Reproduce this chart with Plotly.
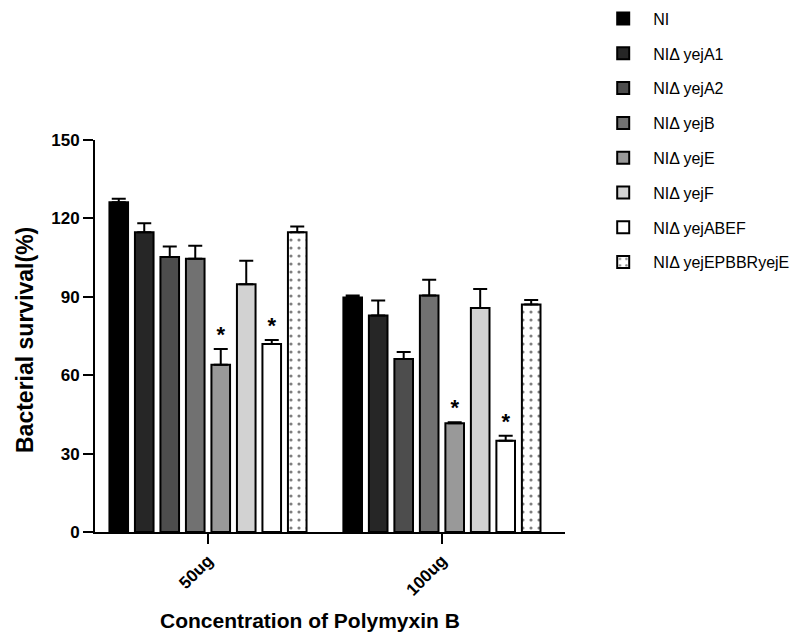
import plotly.graph_objects as go

categories = ["50ug", "100ug"]
strains = ["NI", "NIΔ yejA1", "NIΔ yejA2", "NIΔ yejB", "NIΔ yejE", "NIΔ yejF",
           "NIΔ yejABEF", "NIΔ yejEPBBRyejE"]
survival_50 = [126.2, 114.7, 105.2, 104.6, 64.0, 94.8, 71.9, 114.7]
survival_100 = [89.7, 82.8, 66.2, 90.5, 41.6, 85.7, 34.9, 87.1]
err_50 = [1.3, 3.4, 4.0, 4.9, 6.0, 9.0, 1.6, 2.2]
err_100 = [0.8, 5.8, 2.7, 6.0, 0.4, 7.3, 1.9, 1.7]
signif_50 = [False, False, False, False, True, False, True, False]
signif_100 = [False, False, False, False, True, False, True, False]

colors = ["#000000", "#262626", "#4d4d4d", "#717171", "#999999", "#d2d2d2", "#ffffff", "#ffffff"]

FONT = "Liberation Sans, Arial, sans-serif"
BARGAP = 0.128
BARGROUPGAP = 0.27
n = len(strains)
xpos = list(range(len(categories)))

fig = go.Figure()
for i, s in enumerate(strains):
    pattern = dict(shape=".", fgcolor="black", bgcolor="white", size=8, solidity=0.12) if i == n - 1 else dict(shape="")
    fig.add_trace(go.Bar(
        x=xpos, y=[survival_50[i], survival_100[i]], name=s,
        legendgroup=s,
        marker=dict(color=colors[i], line=dict(color="black", width=2), pattern=pattern),
        error_y=dict(type="data", array=[err_50[i], err_100[i]], arrayminus=[0, 0],
                     symmetric=False, color="black", thickness=2, width=7),
    ))

# significance stars placed above error bars, using the group offset computed from bar gaps
slot = (1 - BARGAP) / n
sx, sy = [], []
for i in range(n):
    off = -(1 - BARGAP) / 2 + slot * (i + 0.5)
    for c, (vals, errs, sig) in enumerate([(survival_50, err_50, signif_50), (survival_100, err_100, signif_100)]):
        if sig[i]:
            sx.append(xpos[c] + off)
            sy.append(vals[i] + errs[i] + 0.5)
fig.add_trace(go.Scatter(x=sx, y=sy, mode="text", text=["*"] * len(sx), textposition="top center",
                         textfont=dict(family=FONT, size=22, color="black", weight="bold"), showlegend=False,
                         hoverinfo="skip"))

fig.update_layout(
    width=798, height=628,
    margin=dict(l=87, r=241, t=132, b=104, autoexpand=False),
    paper_bgcolor="white", plot_bgcolor="white",
    barmode="group", bargap=BARGAP, bargroupgap=BARGROUPGAP,
    font=dict(family=FONT, color="black"),
    showlegend=True,
    legend=dict(x=1.06, y=1.353, xanchor="left", yanchor="top", font=dict(size=16, family=FONT),
                tracegroupgap=11, itemwidth=50, bgcolor="rgba(0,0,0,0)"),
    xaxis=dict(range=[-0.483, 1.526], tickvals=xpos, ticktext=categories, tickangle=-45,
               showline=True, linecolor="black", linewidth=2, ticks="outside", ticklen=10,
               tickwidth=2, tickcolor="black", showgrid=False, zeroline=False,
               tickfont=dict(size=17, family=FONT, weight="bold")),
    yaxis=dict(range=[0, 150], tickvals=[0, 30, 60, 90, 120, 150],
               showline=True, linecolor="black", linewidth=2, ticks="outside", ticklen=10,
               tickwidth=2, tickcolor="black", showgrid=False, zeroline=False,
               tickfont=dict(size=17, family=FONT, weight="bold")),
    annotations=[
        dict(text="Concentration of Polymyxin B", xref="paper", yref="paper",
             x=(310 - 95) / 470, y=-(620 - 532) / 392, xanchor="center", yanchor="middle",
             showarrow=False, font=dict(size=21, family=FONT, weight="bold")),
        dict(text="Bacterial survival(%)", xref="paper", yref="paper", textangle=-90,
             x=-(95 - 25) / 470, y=(532 - 340) / 392, xanchor="center", yanchor="middle",
             showarrow=False, font=dict(size=23, family=FONT, weight="bold")),
    ],
)

fig.write_html("out.html")
